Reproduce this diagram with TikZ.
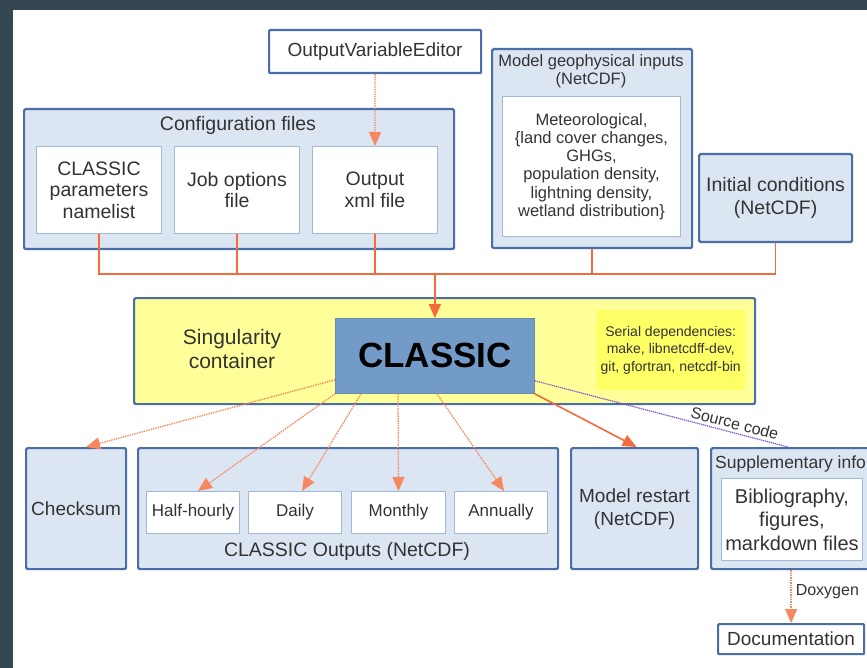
\documentclass[tikz,border=0pt]{standalone}
\usepackage{fontspec}
\setmainfont{Liberation Sans}
\usetikzlibrary{arrows.meta,calc}
\definecolor{frame}{RGB}{52,70,79}
\definecolor{outerfill}{RGB}{220,230,242}
\definecolor{outerline}{RGB}{74,110,168}
\definecolor{innerline}{RGB}{160,185,218}
\definecolor{orng}{RGB}{244,106,58}
\definecolor{lightorng}{RGB}{246,135,95}
\definecolor{contyellow}{RGB}{255,255,153}
\definecolor{seryellow}{RGB}{255,255,102}
\definecolor{classicblue}{RGB}{115,155,200}
\definecolor{purp}{RGB}{125,80,210}
\definecolor{txt}{RGB}{51,51,51}
\newcommand{\fsz}[2]{\fontsize{#1}{#2}\selectfont}
\begin{document}
\begin{tikzpicture}[x=1pt,y=-1pt,
  outerbox/.style={draw=outerline, line width=2.2pt, fill=outerfill, rounded corners=1.5pt, anchor=north west, inner sep=0pt, align=center, text=txt},
  innerbox/.style={draw=innerline, line width=1pt, fill=white, anchor=north west, inner sep=0pt, align=center, text=txt},
  whitebox/.style={draw=outerline, line width=2.2pt, fill=white, rounded corners=1pt, anchor=north west, inner sep=0pt, align=center, text=txt},
  lbl/.style={text=txt, align=center, inner sep=0pt},
  orline/.style={draw=orng, line width=1.6pt},
  ortip/.style={-{Triangle[length=14pt,width=12pt]}},
  dotline/.style={draw=lightorng, line width=1.3pt, dash pattern=on 1.4pt off 1pt},
]
\useasboundingbox (0,0) rectangle (867,668);
\clip (0,0) rectangle (867,668);
\fill[frame] (0,0) rectangle (867,668);
\fill[white] (13,10) rectangle (870,670);

% top row
\node[whitebox, minimum width=212pt, minimum height=43pt, font=\fsz{19}{22}] (ove) at (268,29) {OutputVariableEditor};

\node[outerbox, minimum width=430pt, minimum height=140pt] (cfg) at (23,108) {};
\node[lbl, font=\fsz{19.5}{22}] (cfgt) at (238,125) {Configuration files};
\node[innerbox, minimum width=125pt, minimum height=87pt, font=\fsz{19.5}{21.7}] (cpn) at (36,146) {CLASSIC\\parameters\\namelist};
\node[innerbox, minimum width=125pt, minimum height=87pt, font=\fsz{19.5}{21.7}] (job) at (174,146) {Job options\\file};
\node[innerbox, minimum width=125pt, minimum height=87pt, font=\fsz{19.5}{21.7}] (oxf) at (312,146) {Output\\xml file};

\node[outerbox, minimum width=200pt, minimum height=199pt] (mgi) at (491,48) {};
\node[lbl, font=\fsz{16.5}{18.5}] (mgit) at (591,71) {Model geophysical inputs\\(NetCDF)};
\node[innerbox, minimum width=178pt, minimum height=140pt, font=\fsz{16.5}{18.3}] (met) at (502,96) {Meteorological,\\\{land cover changes,\\GHGs,\\population density,\\lightning density,\\wetland distribution\}};

\node[outerbox, minimum width=153pt, minimum height=88pt, font=\fsz{19.5}{23}] (ic) at (698,153) {Initial conditions\\(NetCDF)};

% bus
\coordinate (busy) at (0,274);
\draw[orline] (cpn.south) -- (cpn.south |- busy) -- (ic.south |- busy) -- (ic.south);
\draw[orline] (job.south) -- (job.south |- busy);
\draw[orline] (oxf.south) -- (oxf.south |- busy);
\draw[orline] (mgi.south) -- (mgi.south |- busy);

% container
\node[outerbox, fill=contyellow, minimum width=621pt, minimum height=106pt] (sc) at (133,297) {};
\node[lbl, font=\fsz{21}{24}] (sct) at (232,349) {Singularity\\container};
\node[draw=classicblue!90!black, line width=0.8pt, fill=classicblue, anchor=north west, minimum width=199pt, minimum height=75pt, inner sep=0pt, text=black, font=\fsz{35}{40}\bfseries] (classic) at (335,318) {CLASSIC};
\node[fill=seryellow, anchor=north west, minimum width=149pt, minimum height=80pt, inner sep=0pt, align=center, text=txt, font=\fsz{14}{17.5}] (ser) at (596,310) {Serial dependencies:\\make, libnetcdff-dev,\\git, gfortran, netcdf-bin};

\draw[orline, ortip] (classic.north |- busy) -- (classic.north);
\draw[dotline, ortip] (ove.south) -- (oxf.north);

% bottom row
\node[outerbox, minimum width=100pt, minimum height=121pt, font=\fsz{19}{22}] (chk) at (25,447) {Checksum};
\node[outerbox, minimum width=420pt, minimum height=121pt] (outs) at (137,447) {};
\node[innerbox, minimum width=93pt, minimum height=42pt, font=\fsz{17}{20}] (half) at (146,491) {Half-hourly};
\node[innerbox, minimum width=93pt, minimum height=42pt, font=\fsz{17}{20}] (daily) at (248,491) {Daily};
\node[innerbox, minimum width=94pt, minimum height=42pt, font=\fsz{17}{20}] (monthly) at (351,491) {Monthly};
\node[innerbox, minimum width=93pt, minimum height=42pt, font=\fsz{17}{20}] (annual) at (454,491) {Annually};
\node[lbl, font=\fsz{19.5}{22}] (outst) at (347,551) {CLASSIC Outputs (NetCDF)};

\node[outerbox, minimum width=127pt, minimum height=121pt, font=\fsz{19}{23}] (restart) at (570,447) {Model restart\\(NetCDF)};

\node[outerbox, minimum width=190pt, minimum height=121pt] (supp) at (710,447) {};
\node[lbl, anchor=west, font=\fsz{17.5}{20}] (suppt) at (715,464) {Supplementary info};
\node[innerbox, minimum width=141pt, minimum height=82pt, font=\fsz{20}{23.5}] (bib) at (721,478) {Bibliography,\\figures,\\markdown files};

\node[whitebox, minimum width=146pt, minimum height=30pt, font=\fsz{19}{22}] (doc) at (717,623) {Documentation};

% arrows from CLASSIC
\draw[dotline, ortip] ($(classic.south west)+(0,-14)$) -- ($(chk.north)+(10,0)$);
\draw[dotline, ortip] (classic.south west) -- ($(half.north)+(5,0)$);
\draw[dotline, ortip] ($(classic.south west)+(26,0)$) -- ($(daily.north)+(7,0)$);
\draw[dotline, ortip] ($(classic.south west)+(63,0)$) -- (monthly.north);
\draw[dotline, ortip] ($(classic.south west)+(102,0)$) -- ($(annual.north)+(3,0)$);
\draw[orline, ortip] (classic.south east) -- ($(restart.north)+(2,0)$);
\draw[draw=purp, line width=1.2pt, dash pattern=on 1.2pt off 0.8pt] ($(classic.south east)+(0,-13)$) -- node[pos=0.78, sloped, above=3pt, text=txt, inner sep=0pt, font=\fsz{16}{18}] (srclbl) {Source code} ($(supp.north west)+(78,0)$);
\draw[dotline, ortip] (doc.north |- supp.south) -- node[right=4pt, text=txt, inner sep=0pt, pos=0.4, font=\fsz{16}{18}] (doxlbl) {Doxygen} (doc.north);
\end{tikzpicture}
\end{document}
